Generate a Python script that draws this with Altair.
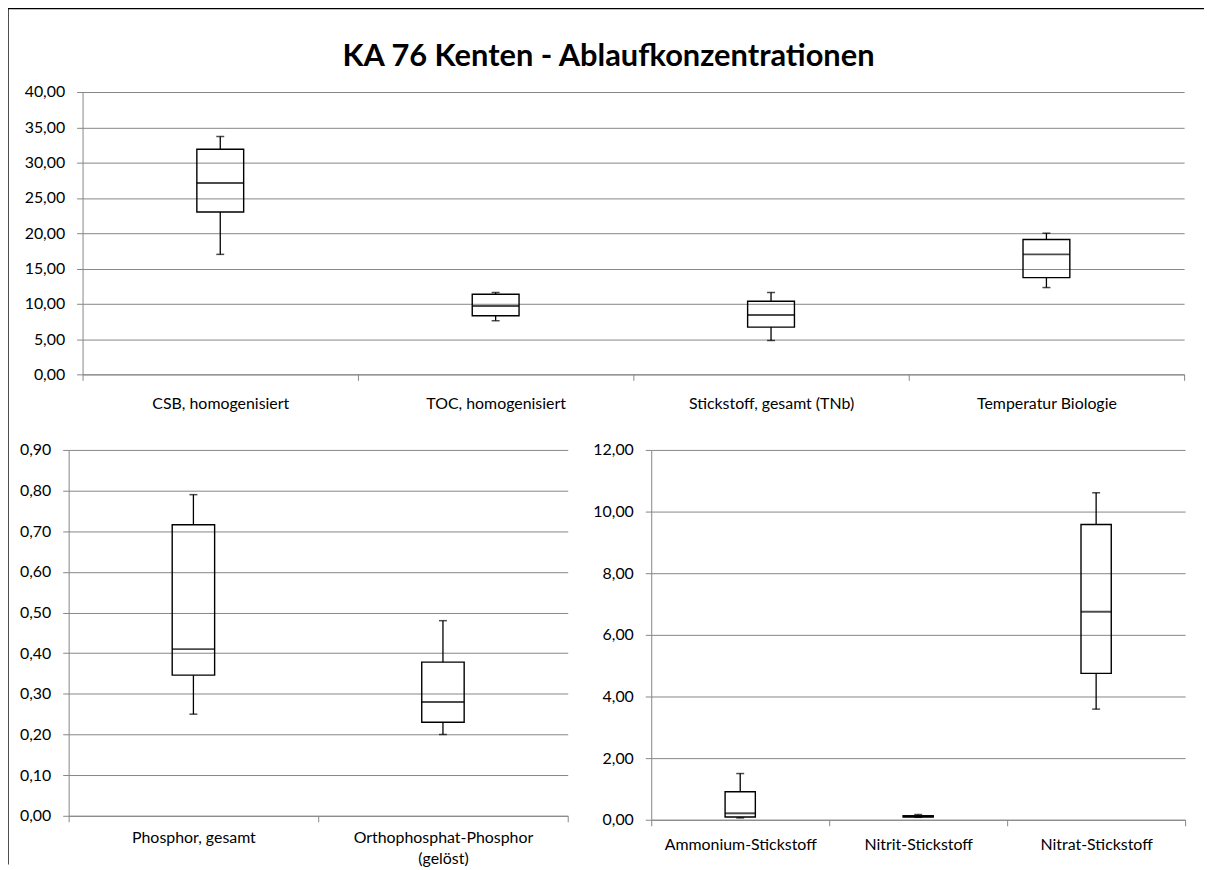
import altair as alt
import pandas as pd

TITLE = "KA 76 Kenten - Ablaufkonzentrationen"

# Top panel
top_cats = ["CSB, homogenisiert", "TOC, homogenisiert", "Stickstoff, gesamt (TNb)", "Temperatur Biologie"]
top_min = [17.0, 7.6, 4.8, 12.3]
top_q1 = [23.0, 8.3, 6.7, 13.7]
top_med = [27.1, 9.7, 8.4, 17.0]
top_q3 = [31.9, 11.35, 10.35, 19.1]
top_max = [33.7, 11.6, 11.6, 20.0]
top_ticks = [0, 5, 10, 15, 20, 25, 30, 35, 40]

# Bottom-left panel
bl_cats = ["Phosphor, gesamt", "Orthophosphat-Phosphor (gelöst)"]
bl_min = [0.25, 0.20]
bl_q1 = [0.346, 0.23]
bl_med = [0.41, 0.28]
bl_q3 = [0.716, 0.378]
bl_max = [0.79, 0.48]
bl_ticks = [0.0, 0.1, 0.2, 0.3, 0.4, 0.5, 0.6, 0.7, 0.8, 0.9]

# Bottom-right panel
br_cats = ["Ammonium-Stickstoff", "Nitrit-Stickstoff", "Nitrat-Stickstoff"]
br_min = [0.06, 0.08, 3.59]
br_q1 = [0.09, 0.09, 4.75]
br_med = [0.21, 0.11, 6.75]
br_q3 = [0.91, 0.13, 9.58]
br_max = [1.50, 0.17, 10.61]
br_ticks = [0, 2, 4, 6, 8, 10, 12]

FONT = "Lato"
GRID = "#868686"
LABEL_EXPR_Y = "replace(format(datum.value, '.2f'), '.', ',')"
LABEL_EXPR_X = ("datum.value == 'Orthophosphat-Phosphor (gelöst)' ? "
                "['Orthophosphat-Phosphor', '(gelöst)'] : datum.label")


def panel(cats, mn, q1, med, q3, mx, ticks, w, h, xpad, box_frac=0.17):
    df = pd.DataFrame({"cat": cats, "mn": mn, "q1": q1, "med": med, "q3": q3, "mx": mx})
    yscale = alt.Scale(domain=[ticks[0], ticks[-1]], nice=False, zero=True)
    yaxis = alt.Axis(values=ticks, labelExpr=LABEL_EXPR_Y, title=None, grid=True,
                     tickSize=6, labelPadding=12, domainColor=GRID, tickColor=GRID,
                     gridColor=GRID)
    xenc = alt.X("cat:N", sort=cats, title=None,
                 scale=alt.Scale(paddingInner=0, paddingOuter=0),
                 axis=alt.Axis(tickBand="extent", labelAngle=0, labelPadding=xpad,
                               labelExpr=LABEL_EXPR_X, labelLineHeight=21,
                               labelLimit=0, tickSize=6, domainColor=GRID,
                               tickColor=GRID, labelBaseline="top"))
    base = alt.Chart(df).encode(x=xenc)
    box_w = w / len(cats) * box_frac
    lower = base.mark_rule(color="black", strokeWidth=1.3).encode(
        y=alt.Y("mn:Q", scale=yscale, axis=yaxis), y2="q1:Q")
    upper = base.mark_rule(color="black", strokeWidth=1.3).encode(
        y=alt.Y("q3:Q", scale=yscale, axis=yaxis), y2="mx:Q")
    box = base.mark_bar(fill="white", fillOpacity=0, stroke="black", strokeWidth=1.4,
                        width=alt.RelativeBandSize(box_frac)).encode(
        y=alt.Y("q1:Q", scale=yscale, axis=yaxis), y2="q3:Q")
    median = base.mark_tick(color="black", size=box_w, thickness=2).encode(
        y=alt.Y("med:Q", scale=yscale, axis=yaxis))
    cap_lo = base.mark_tick(color="black", size=8, thickness=1.5).encode(
        y=alt.Y("mn:Q", scale=yscale, axis=yaxis))
    cap_hi = base.mark_tick(color="black", size=8, thickness=1.5).encode(
        y=alt.Y("mx:Q", scale=yscale, axis=yaxis))
    return [lower, upper, box, median, cap_lo, cap_hi]


TOP_W, TOP_H = 1108, 284
BL_W, BL_H = 502, 368
BR_W, BR_H = 537, 372

one = pd.DataFrame({"t": [TITLE]})
title_mark = alt.Chart(one).mark_text(
    font=FONT, fontSize=31, fontWeight="bold", color="black",
    align="center", baseline="middle").encode(
    text="t:N", x=alt.value(529), y=alt.value(-35))
# chart-area border (left and top edges; the bottom lies below the visible area)
frame_left = alt.Chart(one).mark_rect(color="black").encode(
    x=alt.value(-76), x2=alt.value(-74.3), y=alt.value(-85), y2=alt.value(777))
frame_top = alt.Chart(one).mark_rect(color="black").encode(
    x=alt.value(-76), x2=alt.value(1128), y=alt.value(-85), y2=alt.value(-83.3))

top = alt.layer(
    *panel(top_cats, top_min, top_q1, top_med, top_q3, top_max, top_ticks,
           TOP_W, TOP_H, 15),
    title_mark, frame_left, frame_top
).properties(width=TOP_W, height=TOP_H)

spacer = alt.Chart(one).mark_point(opacity=0).encode(
    x=alt.value(0), y=alt.value(0)).properties(width=14, height=TOP_H)

bl = alt.layer(
    *panel(bl_cats, bl_min, bl_q1, bl_med, bl_q3, bl_max, bl_ticks, BL_W, BL_H, 8)
).properties(width=BL_W, height=BL_H)

br = alt.layer(
    *panel(br_cats, br_min, br_q1, br_med, br_q3, br_max, br_ticks, BR_W, BR_H, 11)
).properties(width=BR_W, height=BR_H)

row1 = alt.hconcat(spacer, top, spacing=0, bounds="flush")
row2 = alt.hconcat(bl, br, spacing=84, bounds="flush")

chart = alt.vconcat(row1, row2, spacing=360, bounds="flush").properties(
    padding={"top": -3, "left": -1, "right": 0, "bottom": 0}, background="white"
).configure_view(stroke=None).configure_axis(
    labelFont=FONT, labelFontSize=16, labelColor="black", gridColor=GRID,
    domainColor=GRID, tickColor=GRID
)

chart.save("out.html", embed_options={"renderer": "svg", "actions": False})
